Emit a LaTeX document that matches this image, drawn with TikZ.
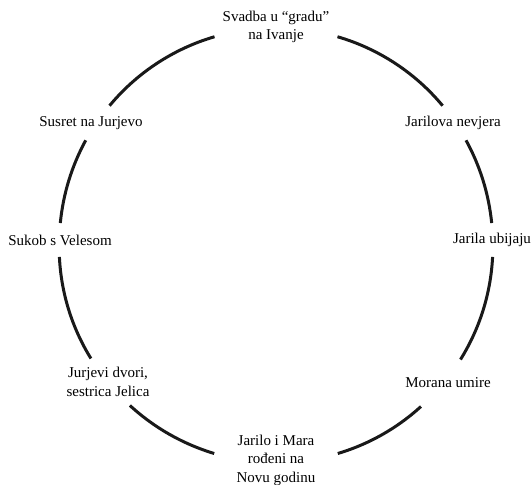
\documentclass[tikz,border=0pt]{standalone}
\usepackage{fontspec}
\setmainfont{Liberation Serif}
\usepackage{tikz}

\begin{document}
\begin{tikzpicture}[x=1pt,y=1pt,
    ev/.style={align=center,inner sep=0pt,font=\fontsize{15}{18.5}\selectfont},
    cyc/.style={line width=3pt,color=black!90,looseness=0.87}]
    \useasboundingbox (-276,-239) rectangle (256,245);

    \node[ev,minimum width=122.6pt,minimum height=36pt] (svadba) at (0,218) {Svadba u “gradu”\\na Ivanje};
    \node[ev,minimum width=110pt,minimum height=34.2pt] (nevjera) at (177,122) {Jarilova nevjera};
    \node[ev,minimum width=90pt,minimum height=33.5pt] (ubijaju) at (216,5) {Jarila ubijaju};
    \node[ev,minimum width=100pt,minimum height=46.6pt] (morana) at (172,-138) {Morana umire};
    \node[ev,minimum width=123.2pt,minimum height=54pt] (rodeni) at (0,-215) {Jarilo i Mara\\rođeni na\\Novu godinu};
    \node[ev,minimum width=100pt,minimum height=46.6pt] (jurjevi) at (-168,-137) {Jurjevi dvori,\\sestrica Jelica};
    \node[ev,minimum width=116pt,minimum height=33.5pt] (sukob) at (-216,5) {Sukob s Velesom};
    \node[ev,minimum width=114pt,minimum height=34.2pt] (susret) at (-185,122) {Susret na Jurjevo};

    \draw[cyc] (svadba.-9) to[bend left=17] (nevjera.121);
    \draw[cyc] (nevjera.-53) to[bend left=11.4] (ubijaju.91);
    \draw[cyc] (ubijaju.-88) to[bend left=14.5] (morana.62);
    \draw[cyc] (morana.-139) to[bend left=12.8] (rodeni.6);
    \draw[cyc] (rodeni.174) to[bend left=12.8] (jurjevi.-47);
    \draw[cyc] (jurjevi.126) to[bend left=14.5] (sukob.-92);
    \draw[cyc] (sukob.89) to[bend left=11.4] (susret.-107);
    \draw[cyc] (susret.43) to[bend left=17] (svadba.189);
\end{tikzpicture}
\end{document}
